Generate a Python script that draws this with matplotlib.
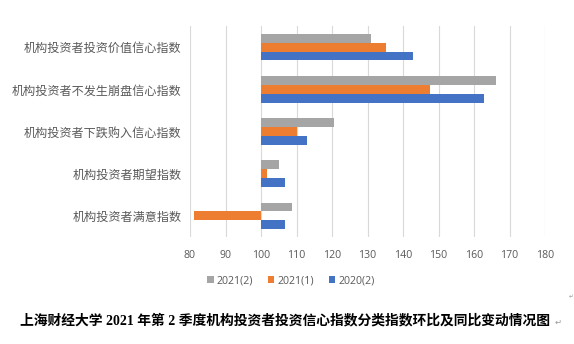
import numpy as np
import matplotlib
matplotlib.use('Agg')
import matplotlib.pyplot as plt

# 数据
categories = ['机构投资者投资价值信心指数', '机构投资者不发生崩盘信心指数',
              '机构投资者下跌购入信心指数', '机构投资者期望指数', '机构投资者满意指数']
v_2021_2 = [131.0, 166.1, 120.6, 105.2, 108.6]
v_2021_1 = [135.2, 147.6, 110.0, 101.6, 81.2]
v_2020_2 = [142.7, 162.8, 112.9, 106.8, 106.8]
series_names = ['2021(2)', '2021(1)', '2020(2)']
colors = ['#A5A5A5', '#ED7D31', '#4472C4']
xticks = list(range(80, 181, 10))

plt.rcParams['font.family'] = ['Noto Sans CJK SC', 'DejaVu Sans']

fig = plt.figure(figsize=(5.74, 3.44), dpi=100)
ax = fig.add_axes([190 / 574, 1 - 237 / 344, 355 / 574, 211 / 344])

y = np.arange(len(categories))
h = 0.21
base = 100
for k, (vals, name, c) in enumerate(zip([v_2021_2, v_2021_1, v_2020_2], series_names, colors)):
    vals = np.array(vals)
    ax.barh(y + (k - 1) * h, vals - base, height=h, left=base, color=c, label=name, zorder=3)

ax.set_xlim(80, 180)
ax.set_ylim(len(categories) - 0.5, -0.5)
ax.set_xticks(xticks)
ax.set_xticklabels([str(t) for t in xticks], family=['Open Sans', 'DejaVu Sans'], fontsize=7.6, color='#595959')
ax.set_yticks(y)
ax.set_yticklabels(categories, fontsize=8.7, color='#595959')
ax.tick_params(axis='both', length=0)
ax.tick_params(axis='x', pad=9)
ax.tick_params(axis='y', pad=6)
ax.grid(axis='x', color='#D9D9D9', linewidth=0.8, zorder=0)
for s in ax.spines.values():
    s.set_visible(False)

leg = fig.legend(loc='center', bbox_to_anchor=(291 / 574, 1 - 281 / 344), ncol=3, frameon=False,
                 handlelength=0.6, handleheight=0.6, handletextpad=0.3, columnspacing=1.4,
                 prop={'family': ['Open Sans', 'DejaVu Sans'], 'size': 7.6})
for t in leg.get_texts():
    t.set_color('#595959')

fig.text(20 / 574, 1 - 321 / 344,
         '上海财经大学 2021 年第 2 季度机构投资者投资信心指数分类指数环比及同比变动情况图',
         family=['Liberation Serif', 'Noto Sans CJK SC'], fontweight='bold', fontsize=9.95,
         color='black', ha='left', va='center')
fig.text(555 / 574, 1 - 322 / 344, '↵', family=['DejaVu Sans'], fontsize=6, color='#999999',
         ha='left', va='center')
fig.text(569 / 574, 1 - 297 / 344, '↵', family=['DejaVu Sans'], fontsize=4, color='#999999',
         ha='left', va='center')

fig.savefig('out.png', dpi=100)
